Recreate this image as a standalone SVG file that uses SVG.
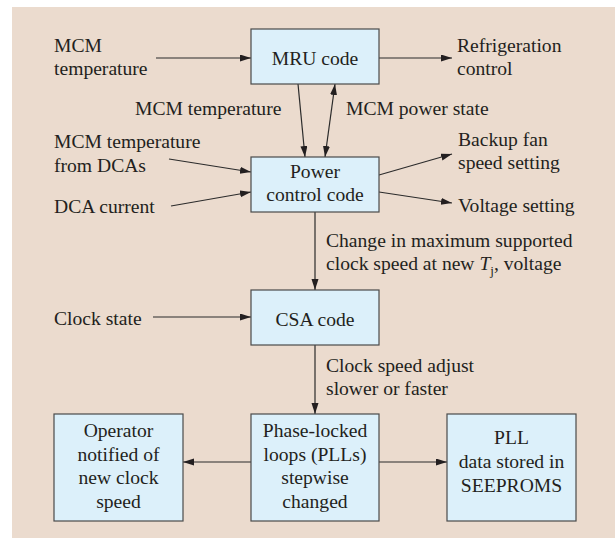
<svg xmlns="http://www.w3.org/2000/svg" width="615" height="538" viewBox="0 0 615 538">
<style>
  text { font-family: "Liberation Serif", "Times New Roman", serif; font-size: 19.6px; fill: #231f20; }
  .c { text-anchor: middle; }
  .box { fill: #dcf0fa; stroke: #4a4a4a; stroke-width: 1.2; }
  .ln { stroke: #2b2b2b; stroke-width: 1.2; fill: none; marker-end: url(#ah); }
  .bi { marker-start: url(#ah); }
</style>
<defs>
  <marker id="ah" markerUnits="userSpaceOnUse" markerWidth="11" markerHeight="8" refX="11" refY="3.5" orient="auto-start-reverse">
    <path d="M0,0 L11,3.5 L0,7 Z" fill="#231f20"/>
  </marker>
</defs>
<rect x="12" y="7" width="603" height="531" fill="#ebdbce"/>

<g id="connectors">
  <line class="ln" x1="156" y1="58" x2="251" y2="58"/>
  <line class="ln" x1="379" y1="58" x2="452" y2="58"/>
  <line class="ln" x1="298" y1="84" x2="305" y2="157"/>
  <line class="ln bi" x1="335" y1="84" x2="325" y2="157"/>
  <line class="ln" x1="169" y1="159" x2="251" y2="172"/>
  <line class="ln" x1="171" y1="206" x2="251" y2="192"/>
  <line class="ln" x1="379" y1="175" x2="452" y2="154"/>
  <line class="ln" x1="379" y1="192" x2="452" y2="203"/>
  <line class="ln" x1="315" y1="212" x2="315" y2="290"/>
  <line class="ln" x1="153" y1="317" x2="251" y2="317"/>
  <line class="ln" x1="315" y1="345" x2="315" y2="414"/>
  <line class="ln" x1="251" y1="462" x2="183" y2="462"/>
  <line class="ln" x1="379" y1="462" x2="447" y2="462"/>
  <text x="135" y="115">MCM temperature</text>
  <text x="346" y="115">MCM power state</text>
  <text x="326" y="247">Change in maximum supported</text>
  <text x="326" y="270">clock speed at new <tspan font-style="italic">T</tspan><tspan font-size="13" dy="5">j</tspan><tspan dy="-5">, voltage</tspan></text>
  <text x="326" y="372">Clock speed adjust</text>
  <text x="326" y="395">slower or faster</text>
</g>

<g id="labels">
  <text x="54" y="52">MCM</text>
  <text x="54" y="75">temperature</text>
  <text x="457" y="52">Refrigeration</text>
  <text x="457" y="75">control</text>
  <text x="54" y="148">MCM temperature</text>
  <text x="54" y="172">from DCAs</text>
  <text x="54" y="213">DCA current</text>
  <text x="458" y="146">Backup fan</text>
  <text x="458" y="169">speed setting</text>
  <text x="458" y="212">Voltage setting</text>
  <text x="54" y="325">Clock state</text>
</g>

<g id="mru">
  <rect class="box" x="251" y="29" width="128" height="55"/>
  <text class="c" x="315" y="65">MRU code</text>
</g>
<g id="power">
  <rect class="box" x="251" y="157" width="128" height="55"/>
  <text class="c" x="315" y="178">Power</text>
  <text class="c" x="315" y="201">control code</text>
</g>
<g id="csa">
  <rect class="box" x="251" y="290" width="128" height="55"/>
  <text class="c" x="315" y="326">CSA code</text>
</g>
<g id="operator">
  <rect class="box" x="54" y="414" width="129" height="107"/>
  <text class="c" x="118.5" y="437">Operator</text>
  <text class="c" x="118.5" y="461">notified of</text>
  <text class="c" x="118.5" y="484">new clock</text>
  <text class="c" x="118.5" y="508">speed</text>
</g>
<g id="pll">
  <rect class="box" x="251" y="414" width="128" height="107"/>
  <text class="c" x="315" y="437">Phase-locked</text>
  <text class="c" x="315" y="461">loops (PLLs)</text>
  <text class="c" x="315" y="484">stepwise</text>
  <text class="c" x="315" y="508">changed</text>
</g>
<g id="seeproms">
  <rect class="box" x="447" y="414" width="129" height="107"/>
  <text class="c" x="511.5" y="444">PLL</text>
  <text class="c" x="511.5" y="468">data stored in</text>
  <text class="c" x="511.5" y="492">SEEPROMS</text>
</g>
</svg>
